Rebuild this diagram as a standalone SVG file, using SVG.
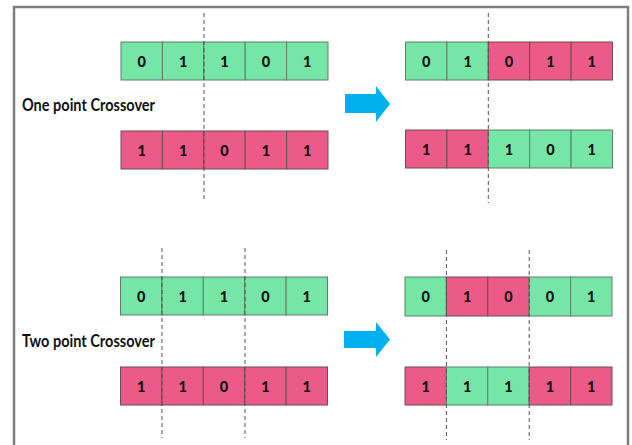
<svg xmlns="http://www.w3.org/2000/svg" width="632" height="445" viewBox="0 0 632 445">
<style>
.g{fill:#76e6a6;stroke:#5f7f6c;stroke-width:1}
.p{fill:#ec5a8a;stroke:#6e4a58;stroke-width:1}
.d{font-family:Lato,"DejaVu Sans",sans-serif;font-weight:900;font-size:14.5px;fill:#111;text-anchor:middle;dominant-baseline:central}
.lbl{font-family:Lato,"Open Sans",sans-serif;font-weight:bold;font-size:16.5px;fill:#111;dominant-baseline:central}
.dash{stroke:#555;stroke-width:1;stroke-dasharray:4 3;fill:none}
.arr{fill:#00b0f0}
</style>
<rect x="0" y="0" width="632" height="445" fill="#fff"/>
<path d="M14 450 V7 H628 V450" fill="none" stroke="#7f7f7f" stroke-width="2.5"/>

<g id="label-one"><text class="lbl" x="22" y="105" textLength="133" lengthAdjust="spacingAndGlyphs">One point Crossover</text></g>
<g id="label-two"><text class="lbl" x="22" y="341" textLength="133" lengthAdjust="spacingAndGlyphs">Two point Crossover</text></g>

<g id="p1-top">
<rect class="g" x="121" y="42" width="41.4" height="38"/><rect class="g" x="162.4" y="42" width="41.4" height="38"/><rect class="g" x="203.8" y="42" width="41.4" height="38"/><rect class="g" x="245.2" y="42" width="41.4" height="38"/><rect class="g" x="286.6" y="42" width="41.4" height="38"/>
<text class="d" x="141.7" y="61">0</text><text class="d" x="183.1" y="61">1</text><text class="d" x="224.5" y="61">1</text><text class="d" x="265.9" y="61">0</text><text class="d" x="307.3" y="61">1</text>
</g>
<g id="p2-top">
<rect class="p" x="121" y="131" width="41.4" height="38"/><rect class="p" x="162.4" y="131" width="41.4" height="38"/><rect class="p" x="203.8" y="131" width="41.4" height="38"/><rect class="p" x="245.2" y="131" width="41.4" height="38"/><rect class="p" x="286.6" y="131" width="41.4" height="38"/>
<text class="d" x="141.7" y="150">1</text><text class="d" x="183.1" y="150">1</text><text class="d" x="224.5" y="150">0</text><text class="d" x="265.9" y="150">1</text><text class="d" x="307.3" y="150">1</text>
</g>
<g id="c1-top">
<rect class="g" x="405.5" y="42" width="41.4" height="38"/><rect class="g" x="446.9" y="42" width="41.4" height="38"/><rect class="p" x="488.3" y="42" width="41.4" height="38"/><rect class="p" x="529.7" y="42" width="41.4" height="38"/><rect class="p" x="571.1" y="42" width="41.4" height="38"/>
<text class="d" x="426.2" y="61">0</text><text class="d" x="467.6" y="61">1</text><text class="d" x="509" y="61">0</text><text class="d" x="550.4" y="61">1</text><text class="d" x="591.8" y="61">1</text>
</g>
<g id="c2-top">
<rect class="p" x="405.5" y="130" width="41.4" height="38"/><rect class="p" x="446.9" y="130" width="41.4" height="38"/><rect class="g" x="488.3" y="130" width="41.4" height="38"/><rect class="g" x="529.7" y="130" width="41.4" height="38"/><rect class="g" x="571.1" y="130" width="41.4" height="38"/>
<text class="d" x="426.2" y="149">1</text><text class="d" x="467.6" y="149">1</text><text class="d" x="509" y="149">1</text><text class="d" x="550.4" y="149">0</text><text class="d" x="591.8" y="149">1</text>
</g>

<g id="p1-bot">
<rect class="g" x="120.5" y="277" width="41.4" height="38"/><rect class="g" x="161.9" y="277" width="41.4" height="38"/><rect class="g" x="203.3" y="277" width="41.4" height="38"/><rect class="g" x="244.7" y="277" width="41.4" height="38"/><rect class="g" x="286.1" y="277" width="41.4" height="38"/>
<text class="d" x="141.2" y="296">0</text><text class="d" x="182.6" y="296">1</text><text class="d" x="224" y="296">1</text><text class="d" x="265.4" y="296">0</text><text class="d" x="306.8" y="296">1</text>
</g>
<g id="p2-bot">
<rect class="p" x="120.5" y="367" width="41.4" height="38"/><rect class="p" x="161.9" y="367" width="41.4" height="38"/><rect class="p" x="203.3" y="367" width="41.4" height="38"/><rect class="p" x="244.7" y="367" width="41.4" height="38"/><rect class="p" x="286.1" y="367" width="41.4" height="38"/>
<text class="d" x="141.2" y="386">1</text><text class="d" x="182.6" y="386">1</text><text class="d" x="224" y="386">0</text><text class="d" x="265.4" y="386">1</text><text class="d" x="306.8" y="386">1</text>
</g>
<g id="c1-bot">
<rect class="g" x="405" y="277" width="41.4" height="39"/><rect class="p" x="446.4" y="277" width="41.4" height="39"/><rect class="p" x="487.8" y="277" width="41.4" height="39"/><rect class="g" x="529.2" y="277" width="41.4" height="39"/><rect class="g" x="570.6" y="277" width="41.4" height="39"/>
<text class="d" x="425.7" y="296.5">0</text><text class="d" x="467.1" y="296.5">1</text><text class="d" x="508.5" y="296.5">0</text><text class="d" x="549.9" y="296.5">0</text><text class="d" x="591.3" y="296.5">1</text>
</g>
<g id="c2-bot">
<rect class="p" x="405" y="367" width="41.4" height="38"/><rect class="g" x="446.4" y="367" width="41.4" height="38"/><rect class="g" x="487.8" y="367" width="41.4" height="38"/><rect class="p" x="529.2" y="367" width="41.4" height="38"/><rect class="p" x="570.6" y="367" width="41.4" height="38"/>
<text class="d" x="425.7" y="386">1</text><text class="d" x="467.1" y="386">1</text><text class="d" x="508.5" y="386">1</text><text class="d" x="549.9" y="386">1</text><text class="d" x="591.3" y="386">1</text>
</g>

<g id="connectors">
<line class="dash" x1="204" y1="13" x2="204" y2="202"/>
<line class="dash" x1="488.3" y1="13" x2="488.3" y2="203"/>
<line class="dash" x1="162" y1="248" x2="162" y2="438"/>
<line class="dash" x1="245" y1="248" x2="245" y2="438"/>
<line class="dash" x1="446.4" y1="250" x2="446.4" y2="440"/>
<line class="dash" x1="529.2" y1="250" x2="529.2" y2="440"/>
<polygon class="arr" points="345,94 376,94 376,86 390,104 376,122 376,113 345,113"/>
<polygon class="arr" points="344,331 376,331 376,322 390,339.5 376,357 376,348 344,348"/>
</g>
</svg>
